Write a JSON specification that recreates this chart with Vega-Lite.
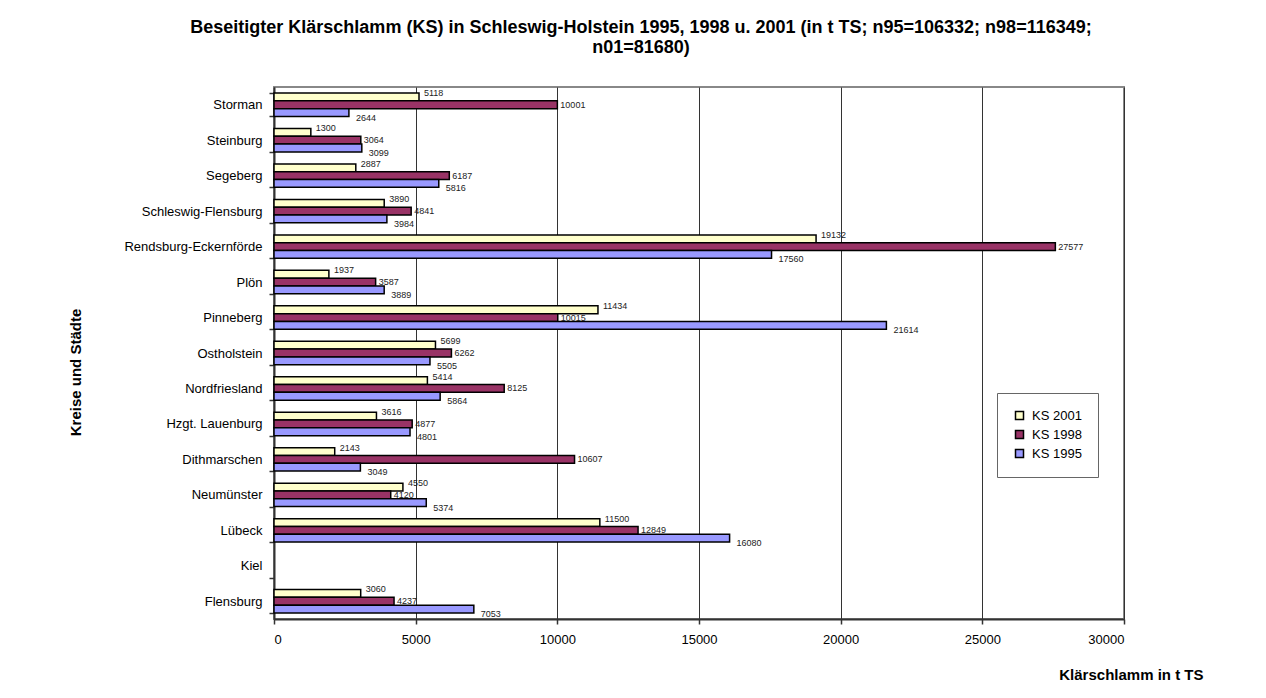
{
  "$schema": "https://vega.github.io/schema/vega-lite/v6.json",
  "autosize": "none",
  "width": 850,
  "height": 532,
  "padding": {"left": 274, "top": 87, "right": 142, "bottom": 79},
  "background": "white",
  "config": {
    "font": "Liberation Sans",
    "view": {"stroke": "#888888", "strokeWidth": 2}
  },
  "title": {
    "text": ["Beseitigter Klärschlamm (KS) in Schleswig-Holstein 1995, 1998 u. 2001 (in t TS; n95=106332; n98=116349;", "n01=81680)"],
    "anchor": "middle",
    "frame": "group",
    "dx": -58,
    "fontSize": 18,
    "fontWeight": "bold",
    "color": "black",
    "lineHeight": 20,
    "offset": 24
  },
  "data": {
    "values": [
      {"Kreis": "Storman", "Jahr": "KS 2001", "Wert": 5118},
      {"Kreis": "Storman", "Jahr": "KS 1998", "Wert": 10001},
      {"Kreis": "Storman", "Jahr": "KS 1995", "Wert": 2644},
      {"Kreis": "Steinburg", "Jahr": "KS 2001", "Wert": 1300},
      {"Kreis": "Steinburg", "Jahr": "KS 1998", "Wert": 3064},
      {"Kreis": "Steinburg", "Jahr": "KS 1995", "Wert": 3099},
      {"Kreis": "Segeberg", "Jahr": "KS 2001", "Wert": 2887},
      {"Kreis": "Segeberg", "Jahr": "KS 1998", "Wert": 6187},
      {"Kreis": "Segeberg", "Jahr": "KS 1995", "Wert": 5816},
      {"Kreis": "Schleswig-Flensburg", "Jahr": "KS 2001", "Wert": 3890},
      {"Kreis": "Schleswig-Flensburg", "Jahr": "KS 1998", "Wert": 4841},
      {"Kreis": "Schleswig-Flensburg", "Jahr": "KS 1995", "Wert": 3984},
      {"Kreis": "Rendsburg-Eckernförde", "Jahr": "KS 2001", "Wert": 19132},
      {"Kreis": "Rendsburg-Eckernförde", "Jahr": "KS 1998", "Wert": 27577},
      {"Kreis": "Rendsburg-Eckernförde", "Jahr": "KS 1995", "Wert": 17560},
      {"Kreis": "Plön", "Jahr": "KS 2001", "Wert": 1937},
      {"Kreis": "Plön", "Jahr": "KS 1998", "Wert": 3587},
      {"Kreis": "Plön", "Jahr": "KS 1995", "Wert": 3889},
      {"Kreis": "Pinneberg", "Jahr": "KS 2001", "Wert": 11434},
      {"Kreis": "Pinneberg", "Jahr": "KS 1998", "Wert": 10015},
      {"Kreis": "Pinneberg", "Jahr": "KS 1995", "Wert": 21614},
      {"Kreis": "Ostholstein", "Jahr": "KS 2001", "Wert": 5699},
      {"Kreis": "Ostholstein", "Jahr": "KS 1998", "Wert": 6262},
      {"Kreis": "Ostholstein", "Jahr": "KS 1995", "Wert": 5505},
      {"Kreis": "Nordfriesland", "Jahr": "KS 2001", "Wert": 5414},
      {"Kreis": "Nordfriesland", "Jahr": "KS 1998", "Wert": 8125},
      {"Kreis": "Nordfriesland", "Jahr": "KS 1995", "Wert": 5864},
      {"Kreis": "Hzgt. Lauenburg", "Jahr": "KS 2001", "Wert": 3616},
      {"Kreis": "Hzgt. Lauenburg", "Jahr": "KS 1998", "Wert": 4877},
      {"Kreis": "Hzgt. Lauenburg", "Jahr": "KS 1995", "Wert": 4801},
      {"Kreis": "Dithmarschen", "Jahr": "KS 2001", "Wert": 2143},
      {"Kreis": "Dithmarschen", "Jahr": "KS 1998", "Wert": 10607},
      {"Kreis": "Dithmarschen", "Jahr": "KS 1995", "Wert": 3049},
      {"Kreis": "Neumünster", "Jahr": "KS 2001", "Wert": 4550},
      {"Kreis": "Neumünster", "Jahr": "KS 1998", "Wert": 4120},
      {"Kreis": "Neumünster", "Jahr": "KS 1995", "Wert": 5374},
      {"Kreis": "Lübeck", "Jahr": "KS 2001", "Wert": 11500},
      {"Kreis": "Lübeck", "Jahr": "KS 1998", "Wert": 12849},
      {"Kreis": "Lübeck", "Jahr": "KS 1995", "Wert": 16080},
      {"Kreis": "Flensburg", "Jahr": "KS 2001", "Wert": 3060},
      {"Kreis": "Flensburg", "Jahr": "KS 1998", "Wert": 4237},
      {"Kreis": "Flensburg", "Jahr": "KS 1995", "Wert": 7053}
    ]
  },
  "encoding": {
    "y": {
      "field": "Kreis",
      "type": "nominal",
      "scale": {
        "domain": ["Storman", "Steinburg", "Segeberg", "Schleswig-Flensburg", "Rendsburg-Eckernförde", "Plön", "Pinneberg", "Ostholstein", "Nordfriesland", "Hzgt. Lauenburg", "Dithmarschen", "Neumünster", "Lübeck", "Kiel", "Flensburg"],
        "paddingInner": 0.34,
        "paddingOuter": 0.17
      },
      "axis": {
        "title": "Kreise und Städte",
        "titleFontSize": 15,
        "titleFontWeight": "bold",
        "titleColor": "black",
        "titleAnchor": null,
        "titleAngle": -90,
        "titleX": -199,
        "titleY": 285,
        "titleAlign": "center",
        "titleBaseline": "middle",
        "labelFontSize": 13,
        "labelColor": "black",
        "labelPadding": 7,
        "tickBand": "extent",
        "tickSize": 5,
        "tickColor": "#333333",
        "tickWidth": 1.5,
        "domainColor": "#333333",
        "domainWidth": 2
      }
    },
    "yOffset": {
      "field": "Jahr",
      "type": "nominal",
      "scale": {"domain": ["KS 2001", "KS 1998", "KS 1995"], "paddingInner": 0, "paddingOuter": 0}
    },
    "x": {
      "field": "Wert",
      "type": "quantitative",
      "scale": {"domain": [0, 30000], "nice": false},
      "axis": {
        "values": [0, 5000, 10000, 15000, 20000, 25000, 30000],
        "format": "d",
        "title": "Klärschlamm in t TS",
        "titleFontSize": 15,
        "titleFontWeight": "bold",
        "titleColor": "black",
        "titleAnchor": null,
        "titleX": 929,
        "titleY": 60,
        "titleAlign": "right",
        "titleBaseline": "alphabetic",
        "labelFontSize": 13,
        "labelColor": "black",
        "labelPadding": 9,
        "tickSize": 5,
        "tickColor": "#333333",
        "tickWidth": 1.5,
        "domainColor": "#333333",
        "domainWidth": 2,
        "grid": true,
        "gridColor": "#333333",
        "gridWidth": 1
      }
    }
  },
  "layer": [
    {
      "mark": {"type": "bar", "stroke": "black", "strokeWidth": 1.5},
      "encoding": {
        "color": {
          "field": "Jahr",
          "type": "nominal",
          "scale": {"domain": ["KS 2001", "KS 1998", "KS 1995"], "range": ["#FFFFCC", "#993366", "#9999FF"]},
          "legend": {
            "title": null,
            "orient": "none",
            "legendX": 723,
            "legendY": 306,
            "direction": "vertical",
            "symbolType": "square",
            "symbolSize": 64,
            "symbolStrokeColor": "black",
            "symbolStrokeWidth": 1.5,
            "labelFontSize": 13,
            "labelColor": "black",
            "rowPadding": 4,
            "padding": 16,
            "strokeColor": "#666666",
            "fillColor": "white",
            "labelOffset": 6
          }
        }
      }
    },
    {
      "transform": [{"filter": "datum.Jahr == 'KS 2001'"}],
      "mark": {"type": "text", "align": "left", "baseline": "middle", "dx": 5, "dy": -4, "fontSize": 9, "color": "#222222"},
      "encoding": {"text": {"field": "Wert", "type": "quantitative", "format": "d"}}
    },
    {
      "transform": [{"filter": "datum.Jahr == 'KS 1998'"}],
      "mark": {"type": "text", "align": "left", "baseline": "middle", "dx": 3, "dy": 0, "fontSize": 9, "color": "#222222"},
      "encoding": {"text": {"field": "Wert", "type": "quantitative", "format": "d"}}
    },
    {
      "transform": [{"filter": "datum.Jahr == 'KS 1995'"}],
      "mark": {"type": "text", "align": "left", "baseline": "middle", "dx": 7, "dy": 5, "fontSize": 9, "color": "#222222"},
      "encoding": {"text": {"field": "Wert", "type": "quantitative", "format": "d"}}
    }
  ]
}
